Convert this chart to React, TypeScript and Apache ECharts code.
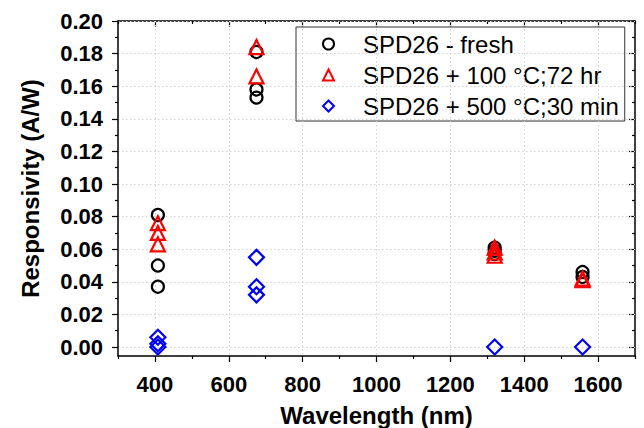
import React, { useEffect, useRef } from "react";
import * as echarts from "echarts";

const seriesNames = ["SPD26 - fresh", "SPD26 + 100 °C;72 hr", "SPD26 + 500 °C;30 min"];
const seriesColors = ["#000000", "#ff0000", "#0000ff"];
const seriesSymbols = ["circle", "triangle", "diamond"];
const seriesSizes = [12, 14, 15];

// [wavelength (nm), responsivity (A/W)]
const fresh: number[][] = [
  [408, 0.081], [408, 0.05], [408, 0.037],
  [675, 0.181], [675, 0.158], [675, 0.153],
  [1320, 0.061], [1320, 0.059], [1320, 0.057],
  [1558, 0.046], [1558, 0.043],
];
const annealed100: number[][] = [
  [408, 0.076], [408, 0.07], [408, 0.063],
  [675, 0.184], [675, 0.166],
  [1320, 0.061], [1320, 0.058], [1320, 0.056],
  [1558, 0.042], [1558, 0.041],
];
const annealed500: number[][] = [
  [408, 0.006], [408, 0.002], [408, 0.0],
  [675, 0.055], [675, 0.037], [675, 0.032],
  [1320, 0.0],
  [1558, 0.0],
];

const xMajorTicks = [400, 600, 800, 1000, 1200, 1400, 1600];
const xMinorTicks = [300, 500, 700, 900, 1100, 1300, 1500, 1700];
const yMajorTicks = [0, 0.02, 0.04, 0.06, 0.08, 0.1, 0.12, 0.14, 0.16, 0.18, 0.2];
const yMinorTicks = [0.01, 0.03, 0.05, 0.07, 0.09, 0.11, 0.13, 0.15, 0.17, 0.19];

const X_MIN = 300;
const X_MAX = 1700;
const Y_MIN = -0.0055;
const Y_MAX = 0.2;

const FONT = "'Liberation Sans', Arial, sans-serif";

function axisBase(kind: "x" | "y", position: string, values: number[], len: number, inside: boolean, main: boolean, showLine: boolean): any {
  return {
    type: "value",
    position,
    min: kind === "x" ? X_MIN : Y_MIN,
    max: kind === "x" ? X_MAX : Y_MAX,
    axisLine: { show: showLine, onZero: false, lineStyle: { color: "#000", width: 1.5 } },
    axisTick: { show: true, inside, length: len, customValues: values, lineStyle: { color: "#000", width: 1.2 } },
    axisLabel: main
      ? {
          show: true,
          customValues: values,
          margin: kind === "x" ? 17 : 15,
          color: "#000",
          fontFamily: FONT,
          fontWeight: "bold",
          fontSize: 22,
          formatter: (v: number) => (kind === "x" ? String(Math.round(v)) : v.toFixed(2)),
        }
      : { show: false },
    splitLine: main
      ? { show: true, lineStyle: { color: "#d0d0d0", type: [1.5, 2.5], width: 1 } }
      : { show: false },
    minorTick: { show: false },
    z: main ? 5 : 4,
  };
}

export default function App() {
  const ref = useRef<HTMLDivElement>(null);
  useEffect(() => {
    if (!ref.current) return;
    const chart = echarts.init(ref.current, null, { renderer: "svg" });
    const datasets = [fresh, annealed100, annealed500];
    const xMain = axisBase("x", "bottom", xMajorTicks, 6, false, true, true);
    xMain.name = "Wavelength (nm)";
    xMain.nameLocation = "middle";
    xMain.nameGap = 47;
    xMain.nameTextStyle = { color: "#000", fontFamily: FONT, fontWeight: "bold", fontSize: 24 };
    const yMain = axisBase("y", "left", yMajorTicks, 6, false, true, true);
    yMain.name = "Responsivity (A/W)";
    yMain.nameLocation = "middle";
    yMain.nameGap = 76;
    yMain.nameTextStyle = { color: "#000", fontFamily: FONT, fontWeight: "bold", fontSize: 24 };

    chart.setOption({
      animation: false,
      backgroundColor: "#ffffff",
      grid: { left: 118, right: 9, top: 21, bottom: 72, containLabel: false, outerBoundsMode: "none" },
      xAxis: [
        xMain,
        axisBase("x", "bottom", xMinorTicks, 3, false, false, false),
        axisBase("x", "top", xMajorTicks, 6, true, false, true),
        axisBase("x", "top", xMinorTicks, 3, true, false, false),
      ],
      yAxis: [
        yMain,
        axisBase("y", "left", yMinorTicks, 3, false, false, false),
        axisBase("y", "right", yMajorTicks, 6, true, false, true),
        axisBase("y", "right", yMinorTicks, 3, true, false, false),
      ],
      legend: {
        orient: "vertical",
        left: 296,
        top: 27,
        padding: [5, 6, 3, 26],
        itemWidth: 11,
        itemHeight: 11,
        itemGap: 7,
        borderColor: "#333",
        borderWidth: 1,
        backgroundColor: "#ffffff",
        textStyle: { color: "#000", fontFamily: FONT, fontSize: 24, padding: [0, 0, 0, 24] },
        data: seriesNames.map((n, i) => ({
          name: n,
          icon: seriesSymbols[i],
          itemStyle: { color: "rgba(0,0,0,0)", borderColor: seriesColors[i], borderWidth: 2, opacity: 1 },
        })),
      },
      series: datasets.map((d, i) => ({
        type: "scatter",
        name: seriesNames[i],
        xAxisIndex: 0,
        yAxisIndex: 0,
        data: d,
        symbol: seriesSymbols[i],
        symbolSize: seriesSizes[i],
        itemStyle: { color: "rgba(0,0,0,0)", borderColor: seriesColors[i], borderWidth: 2.2, opacity: 1 },
        emphasis: { disabled: true },
        z: 10 + i,
      })),
    });
    return () => chart.dispose();
  }, []);
  return <div ref={ref} style={{ position: "fixed", left: 0, top: 0, width: 644, height: 428 }} />;
}
